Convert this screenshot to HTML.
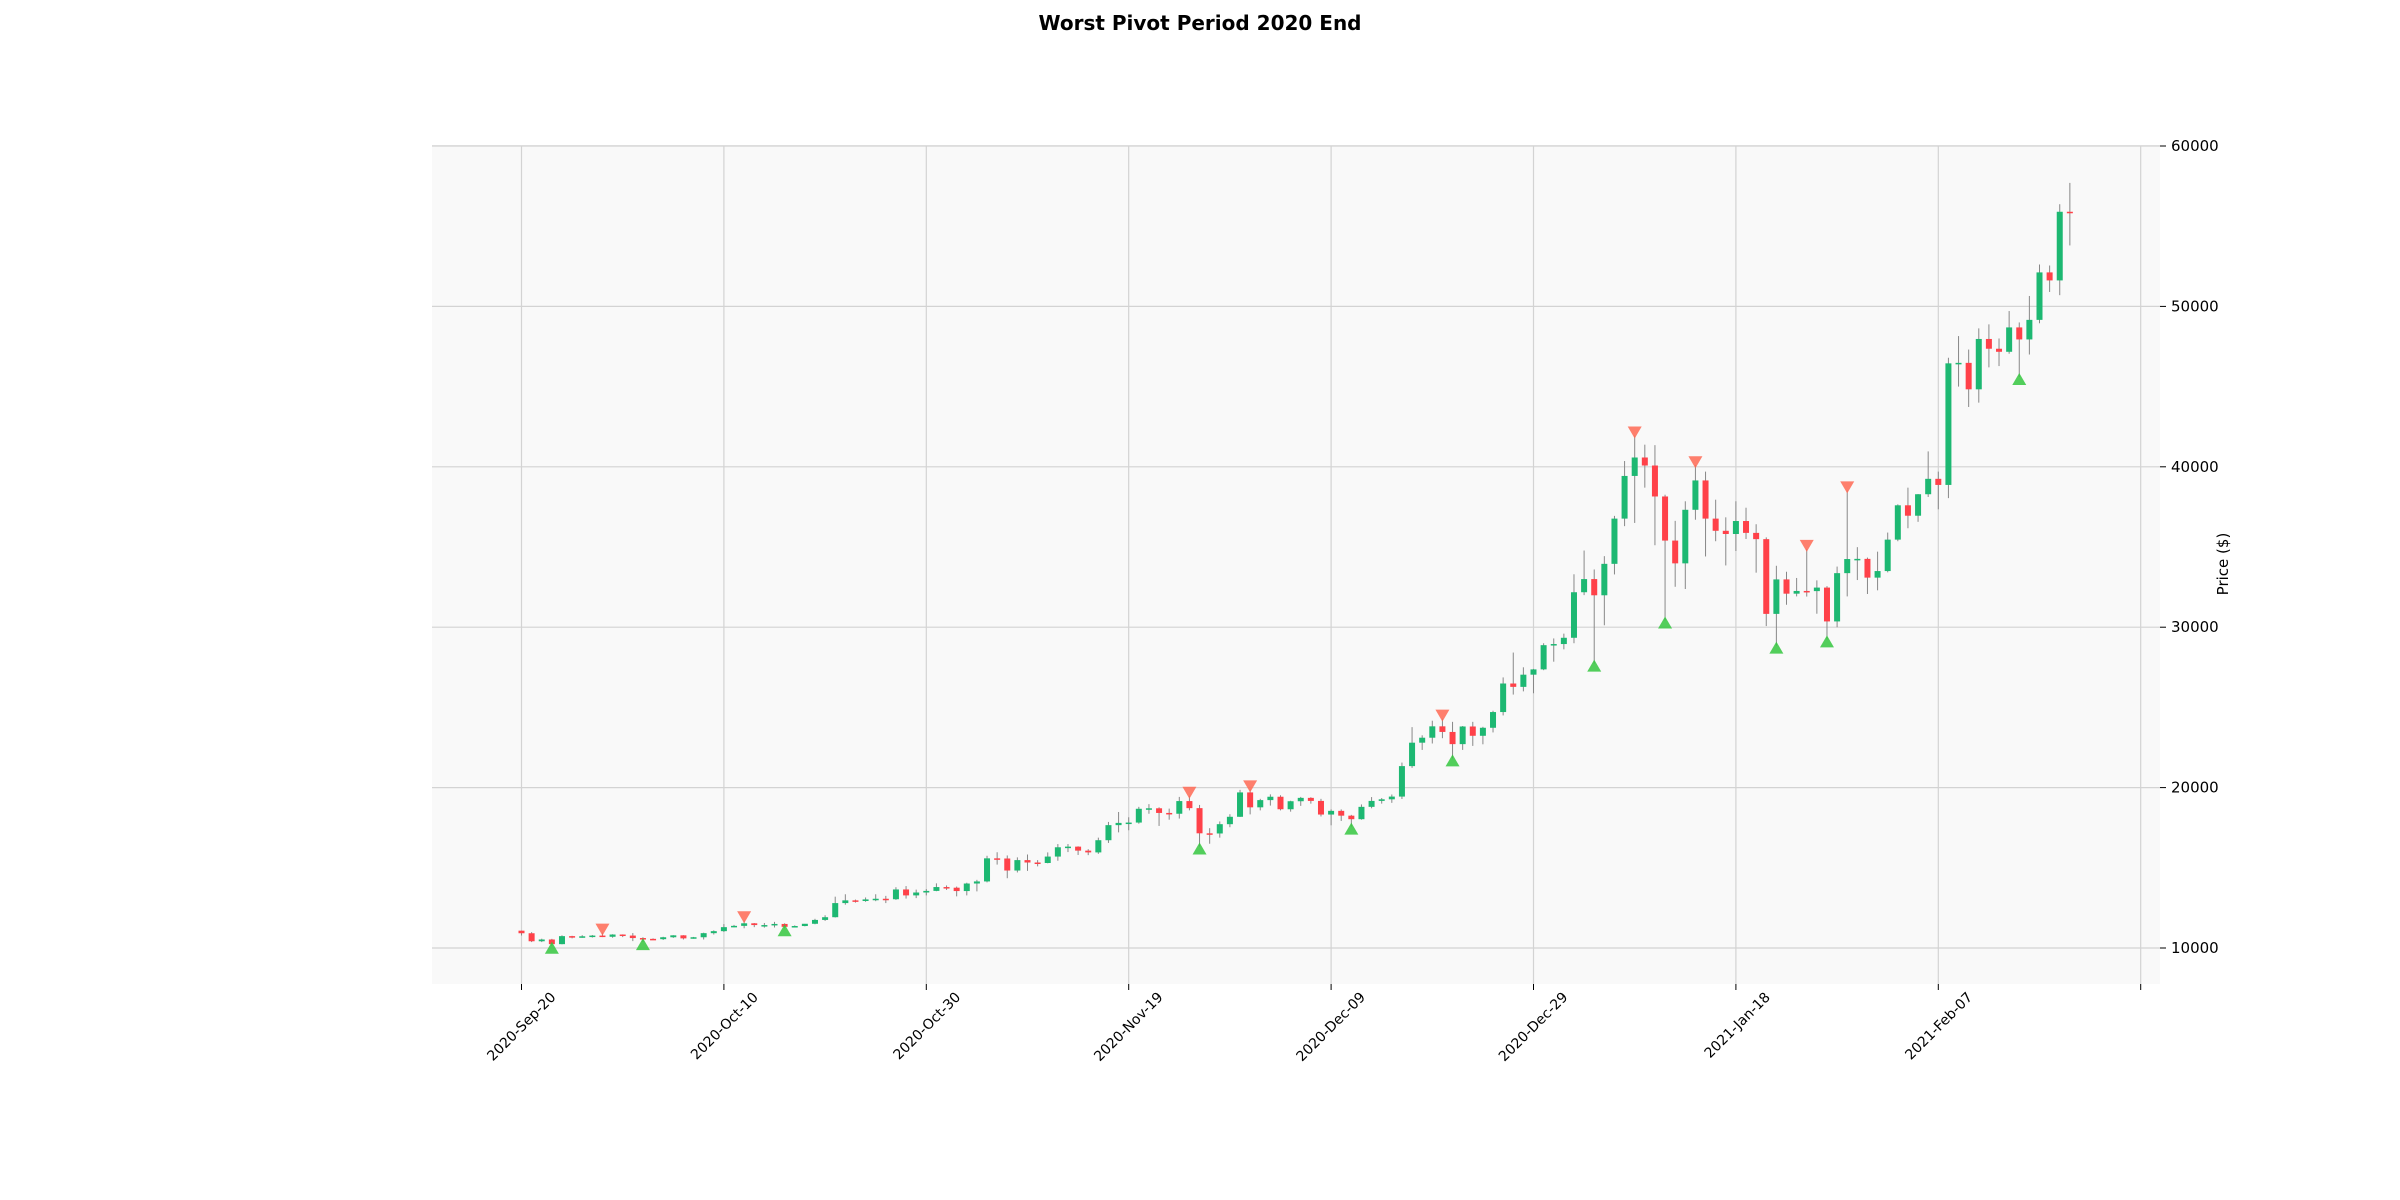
<!DOCTYPE html>
<html><head><meta charset="utf-8">
<style>
html,body{margin:0;padding:0;background:#fff;}
svg{display:block;font-family:"DejaVu Sans","Liberation Sans",sans-serif;}
</style></head>
<body>
<svg id="chart" width="2400" height="1200" viewBox="0 0 2400 1200" xmlns="http://www.w3.org/2000/svg">
<rect x="0" y="0" width="2400" height="1200" fill="#ffffff"/>
<text x="1200" y="30" text-anchor="middle" font-size="20" font-weight="bold" fill="#000">Worst Pivot Period 2020 End</text>
<rect x="432" y="145" width="1728" height="839" fill="#f9f9f9"/>
<g id="grid"></g>
<g id="candles"></g>
<g id="markers"></g>
<g id="axes"></g>
<line x1="432" y1="145.5" x2="2160" y2="145.5" stroke="#dddddd" stroke-width="1"/>
<text x="2228" y="564" text-anchor="middle" font-size="15" fill="#000" transform="rotate(-90 2228 564)">Price ($)</text>
</svg>
<script>
const opens = [11080,10920,10420,10530,10240,10740,10690,10730,10775,10700,10840,
10775,10620,10570,10550,10670,10790,10600,10670,10925,11050,11300,11380,11540,11430,11430,11500,11320,11370,11510,11750,11920,12800,12970,12930,13030,13070,13040,13650,13280,13460,13560,
13800,13760,13550,14020,14150,15590,15580,14830,15480,15330,15300,15700,16280,16320,16070,15960,16720,17660,17800,17820,18680,18710,18420,18370,19160,18720,17150,17140,17720,18180,
19700,18770,19220,19430,18650,19150,19360,19170,18320,18550,18250,18030,18800,19170,19270,19440,21340,22800,23110,23820,23470,22710,23810,23230,23730,24710,26490,26280,27040,27370,28880,
28950,29340,32180,33000,31990,33950,36770,39430,40580,40080,38150,35400,33980,37320,39150,36770,36010,35810,36620,35880,35490,30830,32980,32090,32260,32250,32470,30360,33370,34250,34260,
33090,33500,35460,37600,36950,38290,39250,38870,46450,46480,44830,47970,47360,47170,48690,47940,49160,52120,51620,55900];
const highs = [11080,10990,10580,10570,10790,10760,10800,10810,10960,10860,10850,
10930,10670,10600,10700,10800,10800,10690,10955,11100,11490,11440,11730,11560,11560,11630,11540,11410,11500,11820,12040,13200,13350,13020,13150,13350,13250,13790,13860,13640,13670,14030,
13900,13830,14070,14250,15750,15970,15770,15650,15830,15480,15960,16480,16480,16340,16160,16880,17860,18480,18150,18800,18970,18770,18690,19420,19490,18920,17470,17890,18340,19860,
19890,19300,19580,19520,19180,19420,19400,19300,18640,18640,18300,18950,19410,19350,19570,21560,23770,23260,24170,24300,24100,23840,24100,23790,24790,26870,28420,27500,27400,29000,29300,
29600,33300,34780,33600,34430,36940,40360,41950,41380,41350,38260,36630,37850,40100,39700,37950,36850,37850,37450,36420,35600,33830,33460,33070,34880,32920,32560,33780,38530,34990,34340,
34710,35900,37660,38700,38300,40960,39700,46800,48150,47310,48630,48880,48000,49710,49000,50650,52610,52550,56370,57700];
const lows = [10780,10370,10370,10140,10230,10600,10640,10650,10680,10640,10680,
10430,10370,10500,10500,10630,10530,10580,10530,10840,11000,11290,11230,11300,11270,11280,11230,11310,11350,11480,11690,11900,12700,12830,12880,12920,12800,13000,13080,13110,13280,13540,
13620,13220,13280,13530,14090,15200,14350,14710,14810,15090,15280,15440,15980,15800,15790,15870,16550,17210,17340,17750,18370,17610,18000,18070,18580,16330,16500,16880,17530,18170,
18330,18580,18880,18580,18500,18860,19000,18200,17650,17920,17570,18000,18710,19000,19050,19290,21230,22350,22750,23080,21820,22350,22600,22700,23440,24500,25800,26000,25880,27320,27850,
28620,29000,32000,27730,30120,33290,36300,36500,38700,35110,30420,32520,32380,36700,34410,35360,33850,34750,35500,33400,30070,28850,31400,31920,31910,30840,29240,30000,31920,32940,32070,
32300,33420,35360,36170,36570,38120,37350,38050,45000,43730,44000,46200,46280,47050,45600,47000,48950,50900,50700,53800];
const closes = [10920,10420,10530,10240,10740,10690,10730,10775,10700,10840,10775,
10620,10570,10550,10670,10790,10600,10670,10925,11050,11300,11380,11540,11430,11430,11500,11320,11370,11510,11750,11920,12800,12970,12930,13030,13070,13040,13650,13280,13460,13560,13800,
13760,13550,14020,14150,15590,15580,14830,15480,15330,15300,15700,16280,16320,16070,15960,16720,17660,17800,17820,18680,18710,18420,18370,19160,18720,17150,17140,17720,18180,19700,
18770,19220,19430,18650,19150,19360,19170,18320,18550,18250,18030,18800,19170,19270,19440,21340,22800,23110,23820,23470,22710,23810,23230,23730,24710,26490,26280,27040,27370,28880,28950,
29340,32180,33000,31990,33950,36770,39430,40580,40080,38150,35400,33980,37320,39150,36770,36010,35810,36620,35880,35490,30830,32980,32090,32260,32250,32470,30360,33370,34250,34260,33090,
33500,35460,37600,36950,38290,39250,38870,46450,46480,44830,47970,47360,47170,48690,47940,49160,52120,51620,55900,55840];
const pivotHighIdx = [8,22,66,72,91,110,116,127,131];
const pivotLowIdx = [3,12,26,67,82,92,106,113,124,129,148];
const yTicks = [10000,20000,30000,40000,50000,60000];
const xTickIdx = [0,20,40,60,80,100,120,140,160];
const xTickLabels = ["2020-Sep-20","2020-Oct-10","2020-Oct-30","2020-Nov-19","2020-Dec-09","2020-Dec-29","2021-Jan-18","2021-Feb-07",""];

const NS="http://www.w3.org/2000/svg";
const X0=521.5, DX=10.12, Y60=146, PPU=0.01604;
function xs(i){return X0+i*DX;}
function ys(v){return Y60+(60000-v)*PPU;}
function mk(tag,attrs,parent){const e=document.createElementNS(NS,tag);for(const k in attrs)e.setAttribute(k,attrs[k]);parent.appendChild(e);return e;}
const grid=document.getElementById('grid'),cg=document.getElementById('candles'),mg=document.getElementById('markers'),ax=document.getElementById('axes');

yTicks.forEach(v=>{
  const y=ys(v);
  const gl=mk('line',{x1:432,x2:2160,y1:y,y2:y,stroke:'#d3d3d3','stroke-width':1.2},grid);
  
  
  const tk=mk('line',{x1:2160,x2:2166,y1:y,y2:y,stroke:'#000','stroke-width':1},ax);
  
  
  const t=mk('text',{x:2171,y:y+5,'font-size':15,fill:'#000'},ax);
  
  
  t.textContent=String(v);
});
xTickIdx.forEach((d,k)=>{
  const x=xs(d);
  const gl=mk('line',{x1:x,x2:x,y1:145,y2:984,stroke:'#d3d3d3','stroke-width':1.2},grid);
  
  
  const tk=mk('line',{x1:x,x2:x,y1:984,y2:990,stroke:'#000','stroke-width':1},ax);
  
  
  if(xTickLabels[k]){
    const ax0=x+35, ay0=998;
    const t=mk('text',{x:ax0,y:ay0,'font-size':14,fill:'#000','text-anchor':'end',transform:'rotate(-45 '+ax0+' '+ay0+')'},ax);
    
    
    t.textContent=xTickLabels[k];
  }
});
closes.forEach((c,i)=>{
  const o=opens[i],x=xs(i),up=c>=o,col=up?'#1db872':'#ff4149';
  const w=mk('line',{x1:x,x2:x,y1:ys(highs[i]),y2:ys(lows[i]),stroke:'#888','stroke-width':1},cg);
  
  
  const top=ys(Math.max(o,c)),bot=ys(Math.min(o,c));
  const b=mk('rect',{x:x-3,y:top,width:6,height:Math.max(bot-top,1.5),fill:col},cg);
  
  
});
pivotHighIdx.forEach(i=>{
  const x=xs(i),cy=ys(highs[i])-3;
  const p=mk('polygon',{points:(x-7)+','+(cy-6)+' '+(x+7)+','+(cy-6)+' '+x+','+(cy+6),fill:'#ff6a55','fill-opacity':0.85},mg);
  
  
});
pivotLowIdx.forEach(i=>{
  const x=xs(i),cy=ys(lows[i])+2;
  const p=mk('polygon',{points:(x-7)+','+(cy+6)+' '+(x+7)+','+(cy+6)+' '+x+','+(cy-6),fill:'#35c73f','fill-opacity':0.85},mg);
  
  
});
</script>
</body></html>
